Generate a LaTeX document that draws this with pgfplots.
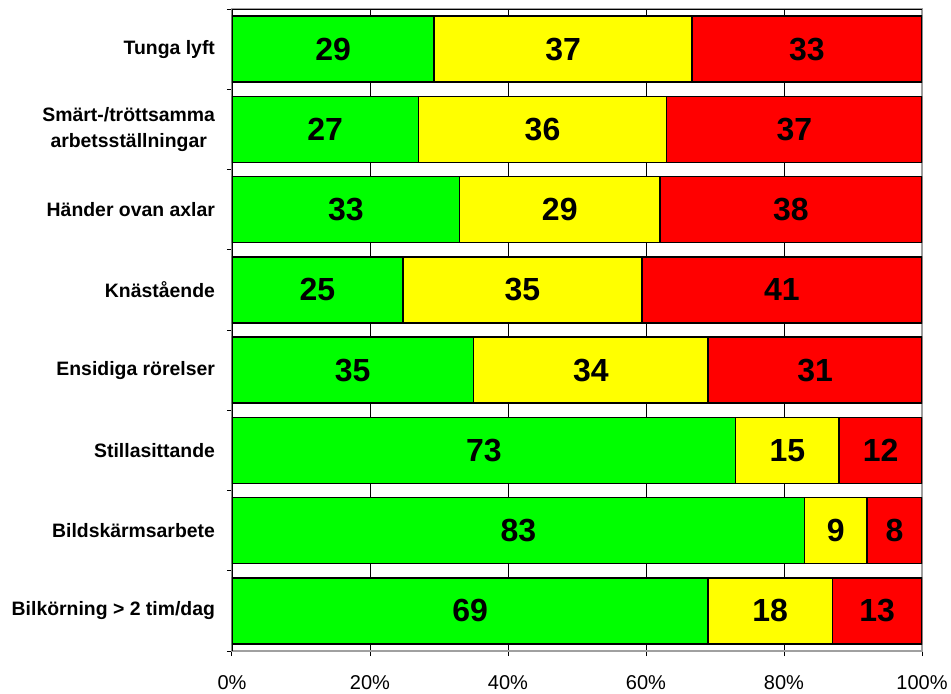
\documentclass[border=0pt]{standalone}
\usepackage{fontspec}
\setmainfont{Liberation Sans}
\usepackage{pgfplots}
\usepackage{pgfplotstable}
\pgfplotsset{compat=1.18}

\definecolor{cgreen}{RGB}{0,255,0}
\definecolor{cyellow}{RGB}{255,255,0}
\definecolor{cred}{RGB}{255,0,0}
\definecolor{frame}{RGB}{160,160,160}

% answers per item: green, yellow, red (counts as printed)
\pgfplotstableread{
idx g y r
0 29 37 33
1 27 36 37
2 33 29 38
3 25 35 41
4 35 34 31
5 73 15 12
6 83 9 8
7 69 18 13
}\data

% shares of each row in percent, and the middle of every segment
\pgfplotstablecreatecol[expr={100*\thisrow{g}/(\thisrow{g}+\thisrow{y}+\thisrow{r})}]{gp}\data
\pgfplotstablecreatecol[expr={100*\thisrow{y}/(\thisrow{g}+\thisrow{y}+\thisrow{r})}]{yp}\data
\pgfplotstablecreatecol[expr={100*\thisrow{r}/(\thisrow{g}+\thisrow{y}+\thisrow{r})}]{rp}\data
\pgfplotstablecreatecol[expr={\thisrow{gp}/2}]{gc}\data
\pgfplotstablecreatecol[expr={\thisrow{gp}+\thisrow{yp}/2}]{yc}\data
\pgfplotstablecreatecol[expr={\thisrow{gp}+\thisrow{yp}+\thisrow{rp}/2}]{rc}\data

\pgfplotsset{
  common/.style={
    at={(0,0)}, anchor=south west,
    scale only axis, width=345pt, height=321pt,
    xmin=0, xmax=100, ymin=-0.5, ymax=7.5, y dir=reverse,
    /pgf/number format/assume math mode=true,
  },
}

\begin{document}
\begin{tikzpicture}
\begin{axis}[
  common,
  xbar stacked, bar width=0.82,
  xtick={0,20,...,100},
  xticklabel={\pgfmathprintnumber{\tick}\%},
  xticklabel style={font=\fontsize{10}{12}\selectfont, yshift=-6pt},
  ytick={0,...,7},
  yticklabels={Tunga lyft, {Smärt-/tröttsamma\\arbetsställningar}, Händer ovan axlar,
    Knästående, Ensidiga rörelser, Stillasittande, Bildskärmsarbete,
    Bilkörning > 2 tim/dag},
  yticklabel style={align=center, font=\bfseries\fontsize{9.7}{12.8}\selectfont, xshift=-2.5pt},
  minor ytick={-0.5,0.5,...,7.5},
  major y tick style={draw=none},
  tick pos=left, tick align=outside,
  major tick length=2.5pt, minor tick length=2.5pt,
  tick style={black, line width=0.5pt},
  xmajorgrids, major grid style={black, line width=0.5pt},
  axis line style={frame, line width=0.6pt},
  every axis plot/.append style={draw=black, line width=0.75pt},
]
\addplot[fill=cgreen] table[x=gp, y=idx] {\data};
\addplot[fill=cyellow] table[x=yp, y=idx] {\data};
\addplot[fill=cred] table[x=rp, y=idx] {\data};
\draw[black, line width=0.6pt] (rel axis cs:0,0) -- (rel axis cs:0,1);
\draw[black, line width=0.6pt] (rel axis cs:0,1) -- (rel axis cs:1,1);
\end{axis}

% counts written in the middle of each segment
\begin{axis}[
  common, hide axis,
  nodes near coords, point meta=explicit,
  nodes near coords align={center},
  every node near coord/.append style={font=\bfseries\fontsize{16}{16}\selectfont, text=black},
]
\addplot[only marks, mark=none] table[x=gc, y=idx, meta=g] {\data};
\addplot[only marks, mark=none] table[x=yc, y=idx, meta=y] {\data};
\addplot[only marks, mark=none] table[x=rc, y=idx, meta=r] {\data};
\end{axis}

\pgfresetboundingbox
\path[use as bounding box] (-116pt,-21pt) rectangle (359.5pt,325.5pt);
\end{tikzpicture}
\end{document}
